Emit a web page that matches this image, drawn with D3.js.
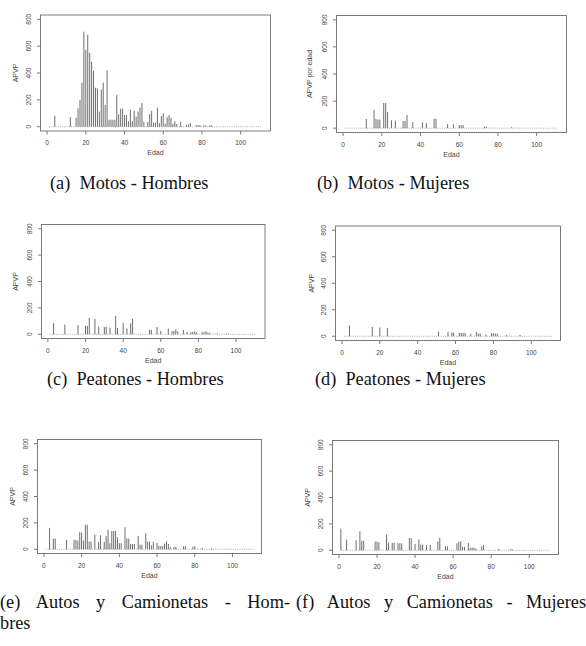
<!DOCTYPE html>
<html>
<head>
<meta charset="utf-8">
<script src="https://cdn.jsdelivr.net/npm/d3@7"></script>
<style>
  body { margin: 0; background: #fff; }
  svg { display: block; }
  .tick-label { font-family: "Liberation Sans", Arial, sans-serif; font-size: 6.5px; fill: #444; }
  .axis-title { font-family: "Liberation Sans", Arial, sans-serif; font-size: 7px; fill: #444; }
  .caption { font-family: "Liberation Serif", "Times New Roman", serif; font-size: 18.3px; fill: #111; white-space: pre; }
</style>
</head>
<body>
<div id="chart"></div>
<script>
// [edad, APVP]
const motosHombres = [
  [4, 82], [12, 72], [15, 67], [16, 137], [17, 200], [18, 328], [19, 708], [20, 573],
  [21, 685], [22, 551], [23, 484], [24, 417], [25, 290], [26, 286], [27, 112], [28, 276],
  [29, 328], [30, 161], [31, 420], [32, 52], [33, 52], [34, 52], [35, 52], [36, 236],
  [37, 94], [38, 134], [39, 134], [40, 87], [41, 87], [42, 40], [43, 127], [44, 42],
  [45, 119], [46, 75], [47, 112], [48, 142], [49, 176], [50, 37], [52, 35], [53, 94],
  [54, 119], [55, 30], [56, 30], [57, 142], [58, 27], [59, 80], [60, 99], [61, 22],
  [62, 72], [63, 87], [64, 67], [65, 22], [66, 40], [67, 20], [69, 37], [72, 15],
  [73, 17], [74, 27], [77, 12], [78, 12], [79, 12], [81, 10], [82, 10], [84, 10], [85, 10],
];

const motosMujeres = [
  [12, 68], [16, 133], [17, 68], [18, 63], [19, 63], [21, 186], [22, 186], [23, 120],
  [25, 58], [27, 55], [31, 53], [32, 53], [33, 98], [36, 45], [41, 43], [43, 38],
  [47, 70], [48, 70], [54, 30], [57, 28], [60, 23], [61, 23], [62, 23], [73, 12],
  [74, 12], [87, 6],
];

const peatonesHombres = [
  [3, 84], [9, 74], [16, 69], [20, 64], [21, 64], [22, 125], [25, 117], [27, 59],
  [30, 56], [31, 56], [33, 51], [36, 140], [37, 48], [40, 87], [42, 43], [44, 84],
  [45, 117], [54, 33], [55, 33], [58, 56], [60, 25], [64, 43], [66, 23], [67, 25],
  [68, 38], [69, 23], [72, 33], [74, 18], [76, 15], [77, 18], [78, 23], [79, 15],
  [82, 18], [83, 15], [84, 23], [85, 12], [86, 12], [90, 6], [95, 6],
];

const peatonesMujeres = [
  [4, 81], [16, 71], [20, 66], [24, 63], [51, 35], [56, 33], [58, 28], [59, 28],
  [62, 25], [63, 25], [64, 25], [65, 25], [68, 18], [71, 33], [72, 20], [73, 20],
  [76, 13], [79, 25], [80, 23], [81, 20], [82, 20], [87, 10], [94, 10],
];

const autosHombres = [
  [3, 162], [5, 81], [6, 81], [12, 71], [16, 71], [17, 71], [18, 66], [19, 132],
  [20, 127], [21, 66], [22, 185], [23, 185], [24, 58], [25, 58], [27, 111], [29, 56],
  [30, 106], [32, 56], [33, 99], [34, 147], [35, 46], [36, 139], [37, 139], [38, 139],
  [39, 89], [40, 46], [41, 46], [43, 167], [44, 83], [45, 81], [46, 40], [47, 40],
  [48, 40], [50, 101], [51, 35], [52, 35], [54, 121], [55, 58], [56, 58], [57, 30],
  [58, 56], [60, 48], [61, 25], [62, 25], [63, 25], [64, 43], [65, 61], [66, 40],
  [67, 18], [69, 18], [70, 18], [74, 23], [75, 23], [79, 18], [80, 23], [84, 10], [89, 8],
];

const autosMujeres = [
  [1, 164], [4, 81], [9, 76], [11, 144], [12, 71], [13, 71], [19, 66], [20, 66],
  [21, 61], [25, 119], [26, 58], [28, 56], [29, 56], [31, 53], [32, 53], [33, 53],
  [37, 94], [38, 91], [40, 48], [42, 81], [43, 43], [44, 43], [46, 38], [48, 40],
  [52, 66], [53, 94], [56, 30], [57, 30], [62, 53], [63, 66], [64, 66], [65, 25],
  [66, 25], [68, 56], [69, 20], [70, 20], [71, 20], [72, 13], [75, 30], [76, 40],
  [84, 10], [90, 8], [91, 8],
];

const xTicks = [0, 20, 40, 60, 80, 100];
const yTicks = [0, 200, 400, 600, 800];
const ageRange = [1, 111];

const panels = [
  { data: motosHombres, ylab: "APVP", box: [40.5, 15, 270.5, 131], ylabX: 15 },
  { data: motosMujeres, ylab: "APVP por edad", box: [336.5, 15.5, 566.5, 132.5], ylabX: 309 },
  { data: peatonesHombres, ylab: "APVP", box: [41.5, 224.5, 265, 338.5], ylabX: 15 },
  { data: peatonesMujeres, ylab: "APVP", box: [335.5, 226, 560.5, 340.5], ylabX: 311 },
  { data: autosHombres, ylab: "APVP", box: [37.5, 439.5, 261.5, 553.5], ylabX: 12 },
  { data: autosMujeres, ylab: "APVP", box: [332.5, 440.5, 558.5, 554.5], ylabX: 307 },
];

// en space after the sub-label; justified lines spread every space evenly
const captions = [
  { text: "(a)\u2002Motos - Hombres", x: 50, y: 189 },
  { text: "(b)\u2002Motos - Mujeres", x: 317, y: 189 },
  { text: "(c)\u2002Peatones - Hombres", x: 47, y: 385 },
  { text: "(d)\u2002Peatones - Mujeres", x: 315, y: 385 },
  { text: "(e) Autos y Camionetas - Hom-", x: 0, y: 608, justify: 290 },
  { text: "bres", x: 0, y: 629 },
  { text: "(f) Autos y Camionetas - Mujeres", x: 296, y: 608, justify: 290 },
];

const svg = d3.select("#chart").append("svg").attr("width", 586).attr("height", 646);

function drawPanel(p) {
  const [x0, y0, x1, y1] = p.box;
  const pad = (ageRange[1] - ageRange[0]) * 0.04;
  const x = d3.scaleLinear().domain([ageRange[0] - pad, ageRange[1] + pad]).range([x0, x1]);
  const y = d3.scaleLinear().domain([-32, 832]).range([y1, y0]);
  const g = svg.append("g");

  // dotted zero line across all ages
  g.append("line")
    .attr("x1", x(ageRange[0])).attr("x2", x(ageRange[1]))
    .attr("y1", y(0)).attr("y2", y(0))
    .attr("stroke", "#999").attr("stroke-width", 0.8)
    .attr("stroke-dasharray", "1,1.2");

  g.selectAll(".bar")
    .data(p.data)
    .join("line")
    .attr("class", "bar")
    .attr("x1", (d) => x(d[0])).attr("x2", (d) => x(d[0]))
    .attr("y1", y(0)).attr("y2", (d) => y(d[1]))
    .attr("stroke", "#5e5e5e").attr("stroke-width", 0.9);

  g.append("rect")
    .attr("x", x0).attr("y", y0)
    .attr("width", x1 - x0).attr("height", y1 - y0)
    .attr("fill", "none").attr("stroke", "#7a7a7a").attr("stroke-width", 1);

  // x axis
  const xa = g.append("g");
  xa.selectAll("line")
    .data(xTicks)
    .join("line")
    .attr("x1", (d) => x(d)).attr("x2", (d) => x(d))
    .attr("y1", y1).attr("y2", y1 + 3.5)
    .attr("stroke", "#7a7a7a");
  xa.selectAll("text")
    .data(xTicks)
    .join("text")
    .attr("class", "tick-label")
    .attr("x", (d) => x(d)).attr("y", y1 + 14)
    .attr("text-anchor", "middle")
    .text((d) => d);

  // y axis
  const ya = g.append("g");
  ya.selectAll("line")
    .data(yTicks)
    .join("line")
    .attr("x1", x0).attr("x2", x0 - 3.5)
    .attr("y1", (d) => y(d)).attr("y2", (d) => y(d))
    .attr("stroke", "#7a7a7a");
  ya.selectAll("text")
    .data(yTicks)
    .join("text")
    .attr("class", "tick-label")
    .attr("transform", (d) => `translate(${x0 - 9.5},${y(d)}) rotate(-90)`)
    .attr("text-anchor", "middle")
    .text((d) => d);

  g.append("text")
    .attr("class", "axis-title")
    .attr("transform", `translate(${p.ylabX + 2.5},${(y0 + y1) / 2}) rotate(-90)`)
    .attr("text-anchor", "middle")
    .text(p.ylab);

  g.append("text")
    .attr("class", "axis-title")
    .attr("x", (x0 + x1) / 2).attr("y", y1 + 24)
    .attr("text-anchor", "middle")
    .text("Edad");
}

panels.forEach(drawPanel);

captions.forEach((c) => {
  const t = svg.append("text")
    .attr("class", "caption")
    .attr("x", c.x).attr("y", c.y)
    .text(c.text);
  if (c.justify) {
    const natural = t.node().getComputedTextLength();
    const gaps = (c.text.match(/ /g) || []).length;
    t.attr("word-spacing", (c.justify - natural) / gaps);
  }
});
</script>
</body>
</html>
